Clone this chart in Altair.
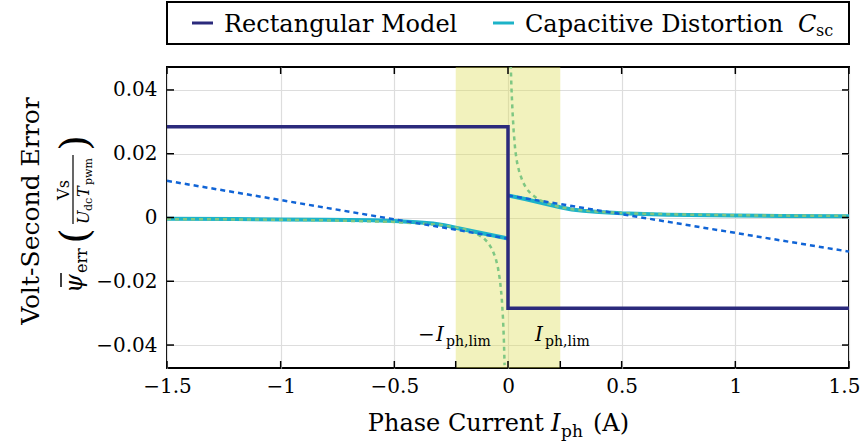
import altair as alt
import pandas as pd

FONT = "DejaVu Serif"
W, H = 682, 301          # plot area
L, T = 167, 67           # plot origin in the page

# ---------------- data ----------------
x_ticks = [-1.5, -1.0, -0.5, 0.0, 0.5, 1.0, 1.5]
x_minor = [-0.23, 0.23]
y_ticks = [-0.04, -0.02, 0.0, 0.02, 0.04]
region = [-0.23, 0.23]

rect_x = [-1.5, 0.0, 0.0, 1.5]
rect_y = [0.0285, 0.0285, -0.0285, -0.0285]

cap_left_x = [-1.5, -1.2, -1.0, -0.8, -0.7, -0.6, -0.5, -0.4, -0.33, -0.28, -0.23, -0.15, -0.08, 0.0]
cap_left_y = [-0.0004, -0.0005, -0.0006, -0.0007, -0.0008, -0.0009, -0.0011, -0.0015, -0.0019, -0.0024, -0.0032, -0.0044, -0.0054, -0.0066]
cap_right_x = [0.0, 0.08, 0.15, 0.23, 0.28, 0.33, 0.4, 0.5, 0.6, 0.7, 0.8, 1.0, 1.2, 1.5]
cap_right_y = [0.0069, 0.0057, 0.0045, 0.0032, 0.0025, 0.0021, 0.0017, 0.0013, 0.0011, 0.0009, 0.0008, 0.0006, 0.0005, 0.0004]
cap_jump_x = [0.0, 0.0]
cap_jump_y = [-0.0066, 0.0069]

fit_left_x = [-1.5, 0.0]
fit_left_y = [0.0115, -0.0066]
fit_right_x = [0.0, 1.5]
fit_right_y = [0.0069, -0.0107]

hyp_left_x = [-1.5, -1.2, -1.0, -0.8, -0.6, -0.5, -0.4, -0.3, -0.23, -0.18, -0.14, -0.11, -0.09,
              -0.07, -0.055, -0.045, -0.035, -0.028, -0.022, -0.018, -0.015]
hyp_left_y = [-0.0005, -0.0006, -0.0007, -0.0009, -0.0012, -0.0014, -0.0018, -0.0023, -0.0031, -0.0039,
              -0.0050, -0.0063, -0.0077, -0.0099, -0.0126, -0.0154, -0.0198, -0.0248, -0.0316, -0.0386, -0.0463]
hyp_right_x = [0.012, 0.015, 0.02, 0.025, 0.032, 0.04, 0.05, 0.065, 0.08, 0.1, 0.13, 0.17, 0.23,
               0.3, 0.4, 0.5, 0.6, 0.8, 1.0, 1.2, 1.5]
hyp_right_y = [0.048, 0.041, 0.033, 0.027, 0.021, 0.0172, 0.0142, 0.0112, 0.0092, 0.0075, 0.0058, 0.0045,
               0.0032, 0.0024, 0.0018, 0.0014, 0.0012, 0.0009, 0.0007, 0.0006, 0.0005]

NAVY = "#2b2a7c"
CYAN = "#1db3c8"
BLUE = "#1064d6"
GREEN = "#7fc783"


def series(*parts):
    rows = []
    for seg, (xs, ys) in enumerate(parts):
        for i, (a, b) in enumerate(zip(xs, ys)):
            rows.append({"x": a, "y": b, "seg": seg, "i": i})
    return pd.DataFrame(rows)


xscale = alt.Scale(domain=[-1.5, 1.5], nice=False, zero=False)
yscale = alt.Scale(domain=[-0.0472, 0.0472], nice=False, zero=False)
X = alt.X("x:Q", scale=xscale, title=None,
          axis=alt.Axis(values=x_ticks, format="~g", labelPadding=8, ticks=False, domain=False,
                        grid=True, gridColor="#dddddd", gridWidth=1.2, labelFlush=False,
                        labelOffset={"condition": {"test": "datum.value == 1.5", "value": -5}, "value": 0}))
Y = alt.Y("y:Q", scale=yscale, title=None,
          axis=alt.Axis(values=y_ticks, format="~g", labelPadding=10, ticks=False, domain=False,
                        grid=True, gridColor="#dddddd", gridWidth=1.2))


def line(df, color, width, dash=None, clip=False):
    kw = dict(color=color, strokeWidth=width, clip=clip, strokeCap="butt", strokeJoin="miter")
    if dash:
        kw["strokeDash"] = dash
    return alt.Chart(df).mark_line(**kw).encode(x=X, y=Y, detail="seg:N", order="i:Q")


ONE = alt.Data(values=[{}])


def txt(s, x, y, size=24, style="normal", angle=0, align="left", baseline="alphabetic"):
    kw = dict(text=s, font=FONT, fontSize=size, fontStyle=style, align=align,
              baseline=baseline, color="black")
    if angle:
        kw["angle"] = angle
    return alt.Chart(ONE).mark_text(**kw).encode(x=alt.value(x - L), y=alt.value(y - T))


def seg_rule(x1, y1, x2, y2, color="black", width=1.5):
    return alt.Chart(ONE).mark_rule(color=color, strokeWidth=width).encode(
        x=alt.value(x1 - L), x2=alt.value(x2 - L), y=alt.value(y1 - T), y2=alt.value(y2 - T))


layers = []

# shaded region
layers.append(alt.Chart(pd.DataFrame({"x": [region[0]], "x2": [region[1]]})).mark_rect(
    color="#dede5a", opacity=0.4).encode(x=X, x2="x2:Q", y=alt.value(0), y2=alt.value(H)))

# curves
layers.append(line(series((cap_left_x, cap_left_y), (cap_right_x, cap_right_y)), CYAN, 4))
layers.append(line(series((cap_jump_x, cap_jump_y)), CYAN, 1))
layers.append(line(series((hyp_left_x, hyp_left_y), (hyp_right_x, hyp_right_y)), GREEN, 2.5, [4, 4], clip=True))
layers.append(line(series((fit_left_x, fit_left_y), (fit_right_x, fit_right_y)), BLUE, 2.5, [5, 4]))
layers.append(line(series((rect_x, rect_y)), NAVY, 3.5))

# inward ticks
tk = dict(color="black", strokeWidth=1.5)
layers.append(alt.Chart(pd.DataFrame({"x": x_ticks + x_minor})).mark_rule(**tk).encode(
    x=X, y=alt.value(H), y2=alt.value(H - 7)))
layers.append(alt.Chart(pd.DataFrame({"x": x_ticks})).mark_rule(**tk).encode(
    x=X, y=alt.value(0), y2=alt.value(7)))
layers.append(alt.Chart(pd.DataFrame({"y": y_ticks})).mark_rule(**tk).encode(
    y=Y, x=alt.value(0), x2=alt.value(7)))
layers.append(alt.Chart(pd.DataFrame({"y": y_ticks})).mark_rule(**tk).encode(
    y=Y, x=alt.value(W), x2=alt.value(W - 7)))

# legend box
layers.append(alt.Chart(ONE).mark_rect(fill="white", stroke="black", strokeWidth=2).encode(
    x=alt.value(0), x2=alt.value(W), y=alt.value(2 - T), y2=alt.value(44 - T)))
layers.append(seg_rule(192, 23, 213, 23, NAVY, 3))
layers.append(txt("Rectangular Model", 224, 32))
layers.append(seg_rule(493, 23, 514, 23, CYAN, 3))
layers.append(txt("Capacitive Distortion", 525, 32))
layers.append(txt("C", 798, 32, style="italic"))
layers.append(txt("sc", 816, 36, size=16))

# region annotations
layers.append(txt("\u2212", 418, 341, size=20))
layers.append(txt("I", 436, 341, size=20, style="italic"))
layers.append(txt("ph,lim", 446, 346, size=14))
layers.append(txt("I", 535, 341, size=20, style="italic"))
layers.append(txt("ph,lim", 545, 346, size=14))

# x title
layers.append(txt("Phase Current", 544, 431, size=24, align="right"))
layers.append(txt("I", 551, 431, size=24, style="italic"))
layers.append(txt("ph", 561, 437, size=17))
layers.append(txt("(A)", 593, 431, size=24))

# y title (rotated)
layers.append(txt("Volt-Second Error", 31, 211, size=25, angle=270, align="center", baseline="middle"))
layers.append(txt("\u03c8", 82, 293, size=24, style="italic", angle=270))
layers.append(seg_rule(61, 273, 61, 287, "black", 1.5))
layers.append(txt("err", 87, 273, size=16, angle=270))
layers.append(txt("(", 76, 236, size=40, angle=270, align="center", baseline="middle"))
layers.append(seg_rule(73, 155, 73, 224, "black", 1.2))
layers.append(txt("Vs", 69, 190, size=16, angle=270, align="center"))
layers.append(txt("U", 89, 224, size=16, style="italic", angle=270))
layers.append(txt("dc", 92, 211, size=11, angle=270))
layers.append(txt("T", 89, 197, size=16, style="italic", angle=270))
layers.append(txt("pwm", 92, 185, size=11, angle=270))
layers.append(txt(")", 76, 143, size=40, angle=270, align="center", baseline="middle"))

chart = alt.layer(*layers).properties(
    width=W, height=H, autosize="none",
    padding={"left": L, "top": T, "right": 863 - L - W, "bottom": 445 - T - H},
).configure_view(stroke="black", strokeWidth=2).configure_axis(
    labelFont=FONT, labelFontSize=20, labelColor="black")

chart.save("out.html", embed_options={"renderer": "svg", "actions": False})
